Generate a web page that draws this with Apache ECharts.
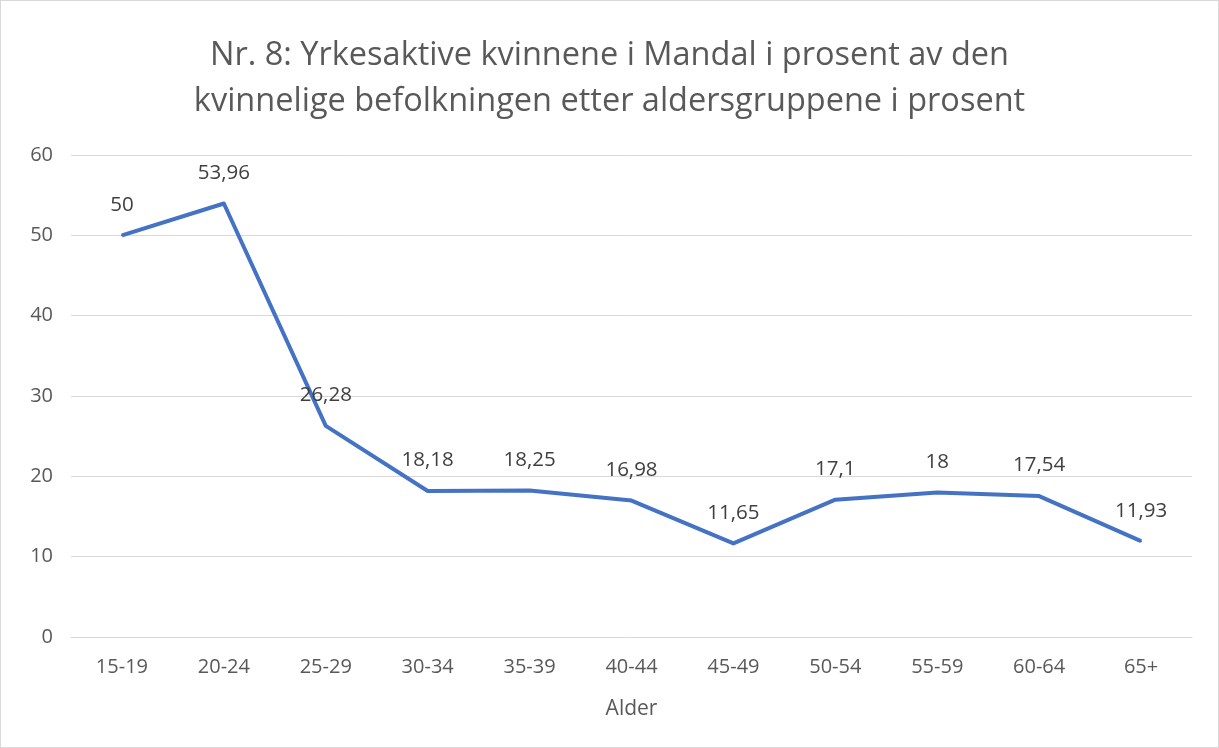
<!DOCTYPE html>
<html>
<head>
<meta charset="utf-8">
<script src="https://cdn.jsdelivr.net/npm/echarts@6/dist/echarts.min.js"></script>
<style>
  html, body { margin: 0; padding: 0; background: #fff; }
  #chart { width: 1217px; height: 746px; border: 1px solid #d9d9d9; }
</style>
</head>
<body>
<div id="chart"></div>
<script>
// aldersgrupper og verdier
const ageGroups = ['15-19', '20-24', '25-29', '30-34', '35-39', '40-44', '45-49', '50-54', '55-59', '60-64', '65+'];
const shares = [50, 53.96, 26.28, 18.18, 18.25, 16.98, 11.65, 17.1, 18, 17.54, 11.93];
const titleText = 'Nr. 8: Yrkesaktive kvinnene i Mandal i prosent av den\nkvinnelige befolkningen etter aldersgruppene i prosent';
const xName = 'Alder';

const font = '"Open Sans", "Liberation Sans", sans-serif';

const chart = echarts.init(document.getElementById('chart'));
chart.setOption({
  animation: false,
  textStyle: { fontFamily: font },
  title: {
    text: titleText,
    left: 'center',
    top: 27,
    textStyle: {
      fontFamily: font,
      fontSize: 32.5,
      fontWeight: 'normal',
      color: '#595959',
      lineHeight: 46
    }
  },
  grid: {
    left: 70,
    right: 26,
    top: 154,
    bottom: 110
  },
  xAxis: {
    type: 'category',
    data: ageGroups,
    boundaryGap: true,
    name: xName,
    nameLocation: 'middle',
    nameGap: 62,
    nameTextStyle: { fontSize: 21, color: '#595959', fontFamily: font },
    axisLine: { lineStyle: { color: '#d9d9d9', width: 1 } },
    axisTick: { show: false },
    axisLabel: { fontSize: 20, color: '#595959', margin: 20, fontFamily: font }
  },
  yAxis: {
    type: 'value',
    min: 0,
    max: 60,
    interval: 10,
    axisLine: { show: false },
    axisTick: { show: false },
    axisLabel: { fontSize: 20, color: '#595959', margin: 18, fontFamily: font },
    splitLine: { lineStyle: { color: '#d9d9d9', width: 1 } }
  },
  series: [{
    type: 'line',
    data: shares,
    symbol: 'circle',
    symbolSize: 2,
    itemStyle: { color: '#4472c4' },
    lineStyle: { color: '#4472c4', width: 4, join: 'round' },
    label: {
      show: true,
      position: 'top',
      distance: 19,
      fontSize: 20.5,
      color: '#404040',
      fontFamily: font,
      formatter: p => String(p.value).replace('.', ',')
    }
  }]
});
</script>
</body>
</html>
